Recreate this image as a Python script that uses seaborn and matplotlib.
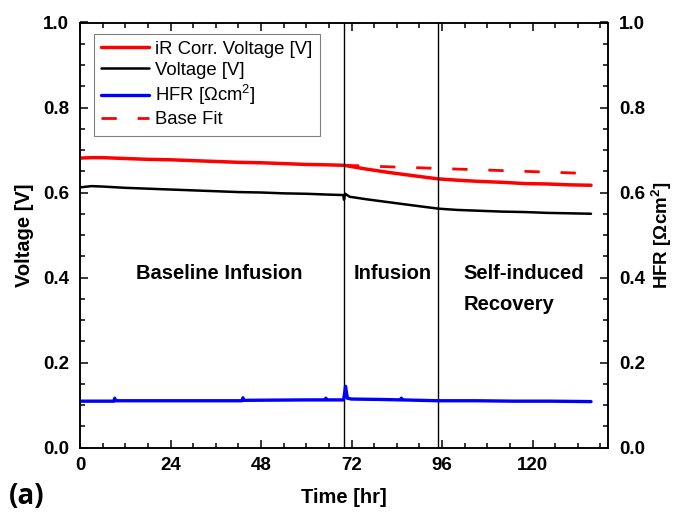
import matplotlib
matplotlib.use("Agg")
import matplotlib.pyplot as plt
import seaborn as sns
from matplotlib.ticker import MultipleLocator

# iR corrected voltage [V]
ir_t = [0, 3, 6, 12, 18, 24, 30, 36, 42, 48, 54, 60, 66, 70,
        76, 82, 88, 95, 100, 106, 112, 118, 124, 130, 135.5]
ir_v = [0.681, 0.682, 0.682, 0.680, 0.678, 0.677, 0.675, 0.673, 0.671, 0.670,
        0.668, 0.666, 0.665, 0.664, 0.655, 0.647, 0.640, 0.632, 0.629, 0.626,
        0.624, 0.621, 0.620, 0.618, 0.617]

# cell voltage [V]
volt_t = [0, 3, 6, 12, 18, 24, 30, 36, 42, 48, 54, 60, 66, 69.8, 70.0, 70.3,
          71.5, 76, 82, 88, 95, 100, 106, 112, 118, 124, 130, 135.5]
volt_v = [0.612, 0.615, 0.614, 0.611, 0.609, 0.607, 0.605, 0.603, 0.601, 0.600,
          0.598, 0.597, 0.595, 0.594, 0.583, 0.597, 0.590, 0.584, 0.577, 0.570,
          0.562, 0.559, 0.557, 0.555, 0.554, 0.552, 0.551, 0.550]

# HFR [Ohm cm2]
hfr_t = [0, 6, 9, 9.2, 9.4, 24, 36, 43, 43.2, 43.4, 60, 65, 65.2, 65.4,
         69.9, 70.2, 70.4, 70.9, 72, 80, 85, 85.2, 85.4, 95, 105, 115, 125, 135.5]
hfr_v = [0.109, 0.109, 0.109, 0.116, 0.110, 0.110, 0.110, 0.110, 0.117, 0.111,
         0.112, 0.112, 0.116, 0.112, 0.112, 0.130, 0.144, 0.116, 0.114, 0.113,
         0.112, 0.116, 0.112, 0.110, 0.110, 0.109, 0.109, 0.108]

# linear base fit
fit_t = [70, 134]
fit_v = [0.664, 0.645]

phase_lines = [70, 95]

sns.set_style("ticks")
plt.rcParams["font.family"] = ["Liberation Sans", "DejaVu Sans"]
plt.rcParams["mathtext.default"] = "regular"
plt.rcParams["text.color"] = "black"
plt.rcParams["axes.labelcolor"] = "black"
plt.rcParams["xtick.color"] = "black"
plt.rcParams["ytick.color"] = "black"
plt.rcParams["axes.edgecolor"] = "black"

fig = plt.figure(figsize=(6.75, 5.23), dpi=100)
ax = fig.add_axes([80 / 675, 75.5 / 523, 528 / 675, 425 / 523])
ax2 = ax.twinx()

sns.lineplot(x=ir_t, y=ir_v, ax=ax, color="#ff0000", lw=2.5,
             estimator=None, sort=False, label="iR Corr. Voltage [V]")
sns.lineplot(x=volt_t, y=volt_v, ax=ax, color="black", lw=1.8,
             estimator=None, sort=False, label="Voltage [V]")
sns.lineplot(x=hfr_t, y=hfr_v, ax=ax2, color="#0000ff", lw=2.4,
             estimator=None, sort=False, label="HFR [Ωcm$^2$]")
sns.lineplot(x=fit_t, y=fit_v, ax=ax, color="#ff0000", lw=2.0,
             estimator=None, sort=False, label="Base Fit", dashes=False)
ax.lines[-1].set_dashes((5.5, 7.5))

for xv in phase_lines:
    ax.axvline(xv, color="black", lw=1.0)

ax.set_xlim(0, 140)
ax.set_ylim(0, 1.0)
ax2.set_ylim(0, 1.0)
ax.xaxis.set_major_locator(MultipleLocator(24))
ax.xaxis.set_minor_locator(MultipleLocator(6))
for a in (ax, ax2):
    a.yaxis.set_major_locator(MultipleLocator(0.2))
    a.yaxis.set_minor_locator(MultipleLocator(0.05))
    a.yaxis.set_major_formatter(plt.FormatStrFormatter("%.1f"))

ax.tick_params(which="both", direction="in", top=True, right=False, width=1.1)
ax.tick_params(which="major", length=6, labelsize=13.5)
ax.tick_params(axis="x", which="major", pad=7)
ax.tick_params(axis="y", which="major", pad=8)
ax.tick_params(which="minor", length=3.5)
ax2.tick_params(which="both", direction="in", width=1.1)
ax2.tick_params(which="major", length=6, labelsize=13.5, pad=8)
ax2.tick_params(which="minor", length=3.5)
for lab in ax.get_xticklabels() + ax.get_yticklabels() + ax2.get_yticklabels():
    lab.set_fontweight("bold")

for a in (ax, ax2):
    for sp in a.spines.values():
        sp.set_linewidth(1.1)
        sp.set_visible(True)

ax.set_xlabel("Time [hr]", fontsize=14.5, fontweight="bold", labelpad=10)
ax.set_ylabel("Voltage [V]", fontsize=14.5, fontweight="bold", labelpad=6)
ax2.set_ylabel("HFR [Ωcm$^2$]", fontsize=13.5, fontweight="bold", labelpad=3)

ax.text(37, 0.41, "Baseline Infusion", fontsize=14.5, fontweight="bold",
        ha="center", va="center")
ax.text(82.8, 0.41, "Infusion", fontsize=14.5, fontweight="bold",
        ha="center", va="center")
ax.text(101.6, 0.41, "Self-induced", fontsize=14.5, fontweight="bold",
        ha="left", va="center")
ax.text(101.6, 0.337, "Recovery", fontsize=14.5, fontweight="bold",
        ha="left", va="center")

h1, l1 = ax.get_legend_handles_labels()
h2, l2 = ax2.get_legend_handles_labels()
if ax2.get_legend():
    ax2.get_legend().remove()
handles = [h1[0], h1[1], h2[0], h1[2]]
labels = [l1[0], l1[1], l2[0], l1[2]]
leg = ax.legend(handles, labels, loc="upper left", bbox_to_anchor=(14 / 528, 1 - 11 / 425),
                borderaxespad=0, fontsize=13.3, frameon=True, fancybox=False,
                edgecolor="#808080", framealpha=1, handlelength=2.6,
                handletextpad=0.3, labelspacing=0.22, borderpad=0.4)
leg.get_frame().set_linewidth(0.8)

fig.text(9 / 675, 1 - 496 / 523, "(a)", fontsize=20, fontweight="bold",
         family="Open Sans", ha="left", va="center")

fig.savefig("out.png", dpi=100)
plt.close(fig)
